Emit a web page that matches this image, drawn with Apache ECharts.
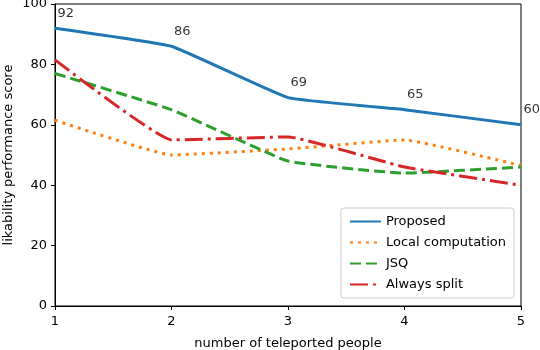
<!DOCTYPE html>
<html>
<head>
<meta charset="utf-8">
<script src="https://cdn.jsdelivr.net/npm/echarts@6/dist/echarts.min.js"></script>
<style>
  html, body { margin: 0; padding: 0; background: #fff; }
  #chart1 { width: 540px; height: 350px; }
</style>
</head>
<body>
<div id="chart1"></div>
<script>
// 初始化echarts实例
let chart1 = echarts.init(document.getElementById("chart1"));

// x轴：传送人数
let people = [1, 2, 3, 4, 5];

// 各方法得分
let proposed = [92, 86, 69, 65, 60];
let localComputation = [61.5, 50, 52, 55, 46.5];
let jsq = [77, 65, 48, 44, 46];
let alwaysSplit = [81.5, 55, 56, 46, 40];

let names = ['Proposed', 'Local computation', 'JSQ', 'Always split'];
let color = ['#1f77b4', '#ff7f0e', '#2ca02c', '#d62728'];

function pairs(arr) {
    return arr.map(function (v, i) { return [people[i], v]; });
}

let font = 'DejaVu Sans';

let option = {
    backgroundColor: '#fff',
    animation: false,
    textStyle: { fontFamily: font, color: '#000' },
    grid: {
        left: 55, right: 19, top: 4, bottom: 44,
        outerBoundsMode: 'none',
        containLabel: false,
        show: true, borderColor: '#000', borderWidth: 1
    },
    legend: {
        data: names,
        orient: 'vertical',
        right: 26,
        bottom: 52,
        itemWidth: 31,
        itemHeight: 12,
        itemGap: 8,
        padding: [7, 8],
        borderColor: '#ccc',
        borderWidth: 1,
        borderRadius: 3,
        backgroundColor: 'rgba(255,255,255,0.8)',
        itemStyle: { opacity: 0 },
        textStyle: { fontFamily: font, fontSize: 13, color: '#000' }
    },
    xAxis: {
        type: 'value',
        min: 1, max: 5, interval: 1,
        name: 'number of teleported people',
        nameLocation: 'middle',
        nameGap: 31,
        nameTextStyle: { fontFamily: font, fontSize: 13, color: '#000' },
        axisLine: { lineStyle: { color: '#000' } },
        axisTick: { length: 4, lineStyle: { color: '#000' } },
        axisLabel: { fontFamily: font, fontSize: 13, color: '#000', margin: 9 },
        splitLine: { show: false }
    },
    yAxis: {
        type: 'value',
        min: 0, max: 100, interval: 20,
        name: 'likability performance score',
        nameLocation: 'middle',
        nameGap: 40,
        nameMoveOverlap: false,
        nameTextStyle: { fontFamily: font, fontSize: 13, color: '#000' },
        axisLine: { show: true, lineStyle: { color: '#000' } },
        axisTick: { show: true, length: 4, lineStyle: { color: '#000' } },
        axisLabel: { fontFamily: font, fontSize: 13, color: '#000', margin: 8 },
        splitLine: { show: false }
    },
    series: [{
        name: names[0], type: 'line', data: pairs(proposed),
        symbol: 'none', smooth: 0.1,
        lineStyle: { color: color[0], width: 3 },
        itemStyle: { color: color[0] }
    }, {
        name: names[1], type: 'line', data: pairs(localComputation),
        symbol: 'none', smooth: 0.1,
        lineStyle: { color: color[1], width: 3, type: [3, 5] },
        itemStyle: { color: color[1] }
    }, {
        name: names[2], type: 'line', data: pairs(jsq),
        symbol: 'none', smooth: 0.1,
        lineStyle: { color: color[2], width: 3, type: [11, 5] },
        itemStyle: { color: color[2] }
    }, {
        name: names[3], type: 'line', data: pairs(alwaysSplit),
        symbol: 'none', smooth: 0.1,
        lineStyle: { color: color[3], width: 3, type: [18, 5, 3, 5] },
        itemStyle: { color: color[3] }
    }, {
        // 数值标签
        name: 'labels', type: 'scatter', data: pairs(proposed),
        symbolSize: 1,
        itemStyle: { color: 'transparent' },
        silent: true,
        label: {
            show: true,
            position: 'right',
            distance: 2,
            offset: [0, -15],
            formatter: function (p) { return p.value[1]; },
            fontFamily: font, fontSize: 13, color: '#000'
        }
    }]
};
window.onresize = chart1.resize;
chart1.setOption(option);
</script>
</body>
</html>
